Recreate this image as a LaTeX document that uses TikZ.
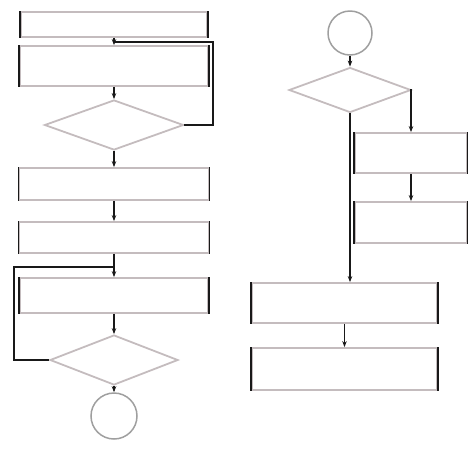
\documentclass[tikz,border=0pt]{standalone}
\usetikzlibrary{shapes.geometric,arrows.meta}
\definecolor{faint}{RGB}{196,188,190}
\definecolor{ink}{RGB}{25,25,25}
\tikzset{
  stepbox/.style={rectangle, draw=faint, line width=1.8pt, inner sep=0pt},
  decide/.style={diamond, draw=faint, line width=1.8pt, inner sep=0pt, aspect=2.6},
  term/.style={circle, draw=gray!75, line width=1.5pt, inner sep=0pt},
  flow/.style={draw=ink, line width=1.4pt, -{Stealth[length=6pt,width=4.5pt]}},
  wire/.style={draw=ink, line width=1.4pt},
  side/.style={draw=ink, line width=1.6pt}
}
\begin{document}
\begin{tikzpicture}[x=1pt,y=-1pt]
\useasboundingbox (0,0) rectangle (468,448);
% left column
\node[stepbox, minimum width=186pt, minimum height=25pt] (L1) at (114,24.5) {};
\node[stepbox, minimum width=188pt, minimum height=40pt] (L2) at (114,66) {};
\node[decide, minimum width=139pt, minimum height=50pt] (LD1) at (114,125) {};
\node[stepbox, minimum width=189pt, minimum height=32pt] (L3) at (114,184) {};
\node[stepbox, minimum width=189pt, minimum height=31pt] (L4) at (114,237.5) {};
\node[stepbox, minimum width=188pt, minimum height=35pt] (L5) at (114,295.5) {};
\node[decide, minimum width=128pt, minimum height=50pt] (LD2) at (114,360) {};
\node[term, minimum size=46pt] (LC) at (114,416) {};
% right column
\node[term, minimum size=44pt] (RC) at (350,33) {};
\node[decide, minimum width=122pt, minimum height=45pt] (RD) at (350,90) {};
\node[stepbox, minimum width=112pt, minimum height=40pt] (R1) at (411,153) {};
\node[stepbox, minimum width=112pt, minimum height=41pt] (R2) at (411,222.5) {};
\node[stepbox, minimum width=185pt, minimum height=40pt] (R3) at (344.5,303) {};
\node[stepbox, minimum width=185pt, minimum height=42pt] (R4) at (344.5,369) {};
% dark side edges of the boxes
\foreach \n in {L1,L2,L3,L4,L5,R1,R2,R3,R4}{
  \draw[side] (\n.north west) -- (\n.south west);
  \draw[side] (\n.north east) -- (\n.south east);
}
% loop coordinates
\coordinate (J1) at (114,42);
\coordinate (K1) at (213,42);
\coordinate (J2) at (114,267);
\coordinate (K2) at (14,267);
% left connectors
\draw[flow] (L1) -- (L2);
\draw[wire] (LD1.east) -| (K1) -- (J1);
\draw[flow] (L2) -- (LD1);
\draw[flow] (LD1) -- (L3);
\draw[flow] (L3) -- (L4);
\draw[flow] (L4) -- (L5);
\draw[wire] (LD2.west) -| (K2) -- (J2);
\draw[flow] (L5) -- (LD2);
\draw[flow] (LD2) -- (LC);
% right connectors
\draw[flow] (RC) -- (RD);
\draw[flow] (RD.east) -| (R1.north);
\draw[flow] (R1) -- (R2);
\draw[flow] (RD.south) -- (RD.south |- R3.north);
\draw[flow] (R3) -- (R4);
\end{tikzpicture}
\end{document}
